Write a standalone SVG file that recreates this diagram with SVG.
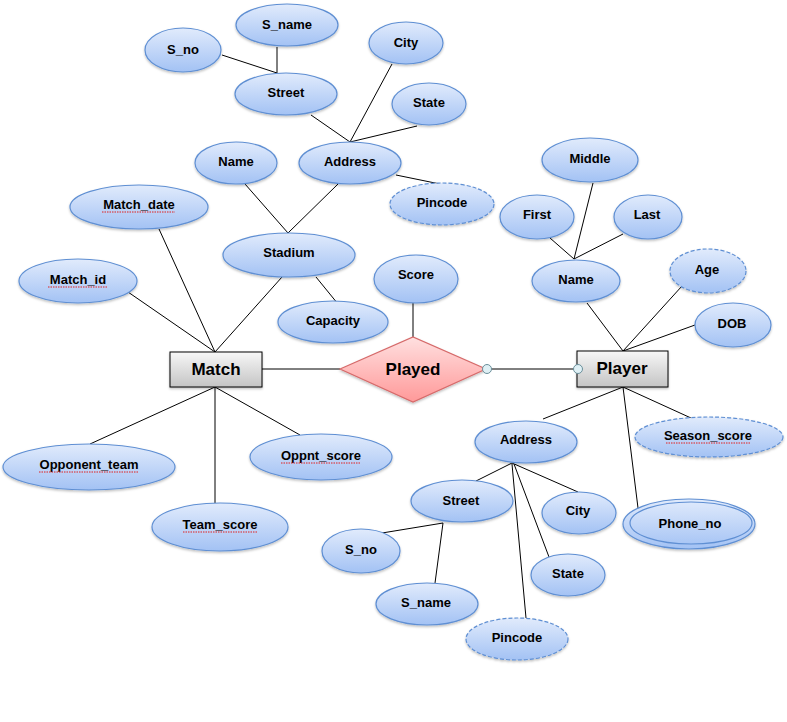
<svg xmlns="http://www.w3.org/2000/svg" width="787" height="722" viewBox="0 0 787 722">
<style>
.e{fill:url(#gb);stroke:#5f8fd3;stroke-width:1.2;filter:url(#sh)}
.d{stroke-dasharray:4 2}
.t{font-family:"Liberation Sans",Arial,sans-serif;font-weight:bold;font-size:13px;fill:#000;text-anchor:middle}
.big{font-size:17px}
.c line{stroke:#000;stroke-width:1}
.sq{stroke:#e02020;stroke-width:1;stroke-dasharray:1.5 1;fill:none}
</style>
<defs>
<linearGradient id="gb" x1="0" y1="0" x2="0" y2="1"><stop offset="0" stop-color="#e1ebfc"/><stop offset="1" stop-color="#a3c2f4"/></linearGradient>
<linearGradient id="gr" x1="0" y1="0" x2="0" y2="1"><stop offset="0" stop-color="#f7f7f7"/><stop offset="1" stop-color="#c4c4c4"/></linearGradient>
<linearGradient id="gp" x1="0" y1="0" x2="0" y2="1"><stop offset="0" stop-color="#ffe0e0"/><stop offset="1" stop-color="#ff9999"/></linearGradient>
<filter id="sh" x="-20%" y="-20%" width="140%" height="150%"><feDropShadow dx="0" dy="1.5" stdDeviation="1" flood-color="#000" flood-opacity="0.25"/></filter>
</defs>
<rect width="787" height="722" fill="#fff"/>
<g class="c" id="connectors">
<line x1="222" y1="55" x2="277" y2="73"/>
<line x1="277" y1="47" x2="277" y2="73"/>
<line x1="311" y1="115" x2="350" y2="142"/>
<line x1="392" y1="64" x2="350" y2="142"/>
<line x1="417" y1="126" x2="350" y2="142"/>
<line x1="396" y1="175" x2="440" y2="184"/>
<line x1="245" y1="184" x2="288" y2="233"/>
<line x1="338" y1="184" x2="288" y2="233"/>
<line x1="159" y1="229" x2="215" y2="352"/>
<line x1="128" y1="292" x2="215" y2="352"/>
<line x1="282" y1="277" x2="215" y2="352"/>
<line x1="316" y1="277" x2="338" y2="304"/>
<line x1="262" y1="369" x2="340" y2="369"/>
<line x1="413" y1="303" x2="413" y2="337"/>
<line x1="491" y1="369" x2="574" y2="369"/>
<line x1="215" y1="387" x2="90" y2="444"/>
<line x1="215" y1="387" x2="215" y2="503"/>
<line x1="215" y1="387" x2="300" y2="435"/>
<line x1="550" y1="238" x2="574" y2="259"/>
<line x1="593" y1="183" x2="574" y2="259"/>
<line x1="623" y1="234" x2="574" y2="259"/>
<line x1="587" y1="303" x2="623" y2="351"/>
<line x1="682" y1="286" x2="623" y2="351"/>
<line x1="695" y1="325" x2="623" y2="351"/>
<line x1="623" y1="387" x2="543" y2="419"/>
<line x1="623" y1="387" x2="638" y2="508"/>
<line x1="623" y1="387" x2="691" y2="418"/>
<line x1="512" y1="463" x2="476" y2="481"/>
<line x1="512" y1="463" x2="578" y2="492"/>
<line x1="514" y1="464" x2="549" y2="557"/>
<line x1="512" y1="464" x2="526" y2="618"/>
<line x1="443" y1="523" x2="382" y2="533"/>
<line x1="443" y1="523" x2="435" y2="583"/>
</g>
<g id="s_no_top"><ellipse class="e" cx="183" cy="50" rx="38" ry="22"/><text class="t" x="183" y="54">S_no</text></g>
<g id="s_name_top"><ellipse class="e" cx="287" cy="25" rx="51" ry="21"/><text class="t" x="287" y="29">S_name</text></g>
<g id="street_top"><ellipse class="e" cx="286" cy="94" rx="51" ry="21"/><text class="t" x="286" y="97">Street</text></g>
<g id="city_top"><ellipse class="e" cx="406" cy="43" rx="37" ry="21"/><text class="t" x="406" y="47">City</text></g>
<g id="state_top"><ellipse class="e" cx="429" cy="104" rx="37" ry="21"/><text class="t" x="429" y="107">State</text></g>
<g id="address_top"><ellipse class="e" cx="350" cy="163" rx="51" ry="21"/><text class="t" x="350" y="166">Address</text></g>
<g id="name_stadium"><ellipse class="e" cx="236" cy="163" rx="41" ry="21"/><text class="t" x="236" y="166">Name</text></g>
<g id="pincode_top"><ellipse class="e d" cx="442" cy="204" rx="52" ry="21"/><text class="t" x="442" y="207">Pincode</text></g>
<g id="match_date"><ellipse class="e" cx="139" cy="207" rx="69" ry="22"/><text class="t" x="139" y="209">Match_date</text><path class="sq" d="M102 212H175"/></g>
<g id="match_id"><ellipse class="e" cx="78" cy="281" rx="59" ry="22"/><text class="t" x="78" y="284">Match_id</text><path class="sq" d="M48 287H108"/></g>
<g id="stadium"><ellipse class="e" cx="289" cy="255" rx="66" ry="22"/><text class="t" x="289" y="257">Stadium</text></g>
<g id="capacity"><ellipse class="e" cx="333" cy="322" rx="55" ry="21"/><text class="t" x="333" y="325">Capacity</text></g>
<g id="score"><ellipse class="e" cx="416" cy="279" rx="42" ry="24"/><text class="t" x="416" y="279">Score</text></g>
<g id="match"><rect x="170" y="352" width="92" height="35" fill="url(#gr)" stroke="#000" stroke-width="1" filter="url(#sh)"/><text class="t big" x="216" y="375">Match</text></g>
<g id="played"><polygon points="340,369 413,337 486,369 413,402" fill="url(#gp)" stroke="#d66a6a" stroke-width="1.2" filter="url(#sh)"/><text class="t big" x="413" y="375">Played</text>
<circle cx="487" cy="369" r="4.5" fill="#dff0f5" stroke="#6a8f9a" stroke-width="1"/></g>
<g id="player"><rect x="577" y="351" width="91" height="36" fill="url(#gr)" stroke="#000" stroke-width="1" filter="url(#sh)"/><text class="t big" x="622" y="374">Player</text>
<circle cx="578" cy="369" r="4.5" fill="#dff0f5" stroke="#6a8f9a" stroke-width="1"/></g>
<g id="middle"><ellipse class="e" cx="590" cy="160" rx="48" ry="22"/><text class="t" x="590" y="163">Middle</text></g>
<g id="first"><ellipse class="e" cx="537" cy="217" rx="37" ry="22"/><text class="t" x="537" y="219">First</text></g>
<g id="last"><ellipse class="e" cx="648" cy="217" rx="34" ry="22"/><text class="t" x="647" y="219">Last</text></g>
<g id="name_player"><ellipse class="e" cx="576" cy="281" rx="44" ry="21"/><text class="t" x="576" y="284">Name</text></g>
<g id="age"><ellipse class="e d" cx="708" cy="271" rx="38" ry="22"/><text class="t" x="707" y="274">Age</text></g>
<g id="dob"><ellipse class="e" cx="733" cy="325" rx="38" ry="22"/><text class="t" x="732" y="328">DOB</text></g>
<g id="opponent_team"><ellipse class="e" cx="89" cy="467" rx="86" ry="23"/><text class="t" x="89" y="469">Opponent_team</text><path class="sq" d="M39 472H139"/></g>
<g id="team_score"><ellipse class="e" cx="220" cy="527" rx="68" ry="24"/><text class="t" x="220" y="529">Team_score</text><path class="sq" d="M183 532H257"/></g>
<g id="oppnt_score"><ellipse class="e" cx="321" cy="457" rx="71" ry="23"/><text class="t" x="321" y="460">Oppnt_score</text><path class="sq" d="M281 463H361"/></g>
<g id="address_player"><ellipse class="e" cx="526" cy="442" rx="51" ry="21"/><text class="t" x="526" y="444">Address</text></g>
<g id="season_score"><ellipse class="e d" cx="709" cy="437" rx="74" ry="20"/><text class="t" x="708" y="440">Season_score</text><path class="sq" d="M666 443H750"/></g>
<g id="street_bottom"><ellipse class="e" cx="462" cy="501" rx="51" ry="21"/><text class="t" x="461" y="505">Street</text></g>
<g id="city_bottom"><ellipse class="e" cx="579" cy="513" rx="37" ry="21"/><text class="t" x="578" y="515">City</text></g>
<g id="phone_no"><ellipse class="e" cx="689" cy="524" rx="66" ry="25"/><ellipse cx="691" cy="523" rx="61" ry="21" fill="none" stroke="#5f8fd3" stroke-width="1.2"/><text class="t" x="690" y="528">Phone_no</text></g>
<g id="s_no_bottom"><ellipse class="e" cx="361" cy="551" rx="39" ry="22"/><text class="t" x="361" y="554">S_no</text></g>
<g id="state_bottom"><ellipse class="e" cx="568" cy="575" rx="37" ry="21"/><text class="t" x="568" y="578">State</text></g>
<g id="s_name_bottom"><ellipse class="e" cx="427" cy="604" rx="51" ry="21"/><text class="t" x="426" y="607">S_name</text></g>
<g id="pincode_bottom"><ellipse class="e d" cx="517" cy="639" rx="51" ry="21"/><text class="t" x="517" y="642">Pincode</text></g>
</svg>
